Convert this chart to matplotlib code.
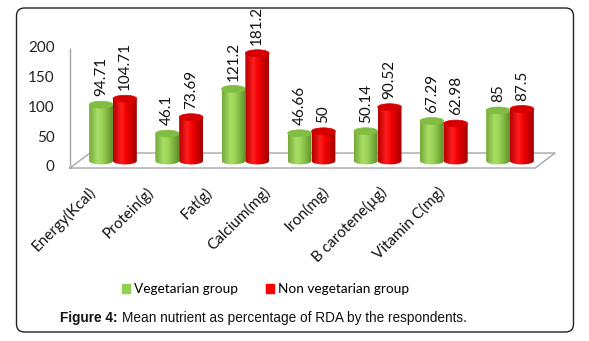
import numpy as np
import matplotlib
matplotlib.use("Agg")
import matplotlib.pyplot as plt
from matplotlib.patches import Ellipse, Patch, FancyBboxPatch, PathPatch
from matplotlib.path import Path
from matplotlib.colors import LinearSegmentedColormap
from matplotlib.transforms import IdentityTransform

nutrients = ["Energy(Kcal)", "Protein(g)", "Fat(g)", "Calcium(mg)",
             "Iron(mg)", "B carotene(µg)", "Vitamin C(mg)"]
veg = [94.71, 46.1, 121.2, 46.66, 50.14, 67.29, 85]
nonveg = [104.71, 73.69, 181.2, 50, 90.52, 62.98, 87.5]
veg_labels = ["94.71", "46.1", "121.2", "46.66", "50.14", "67.29", "85"]
nonveg_labels = ["104.71", "73.69", "181.2", "50", "90.52", "62.98", "87.5"]
yticks = [0, 50, 100, 150, 200]
series_names = ["Vegetarian group", "Non vegetarian group"]

W, H = 589, 341
FONT = "Lato"

# cylinder shading (left -> right)
green_cmap = LinearSegmentedColormap.from_list(
    "g", [(0, "#74A83A"), (0.35, "#A8DE66"), (0.55, "#9BD457"), (1, "#5F9128")])
red_cmap = LinearSegmentedColormap.from_list(
    "r", [(0, "#B80000"), (0.35, "#FF1E1E"), (0.55, "#F40000"), (1, "#A00000")])
green_cap, red_cap = "#82BD43", "#D60000"

bar_w = 0.36
cap_h = 11.5

fig = plt.figure(figsize=(W / 100, H / 100), dpi=100)
ax = fig.add_axes([0, 0, 1, 1])
ax.set_axis_off()


def cylinder(xc, v, cmap, cap_color, z):
    x0, x1 = xc - bar_w / 2, xc + bar_w / 2
    t = np.linspace(np.pi, 2 * np.pi, 40)
    verts = [(x0, v)] + list(zip(xc + bar_w / 2 * np.cos(t), cap_h / 2 * np.sin(t))) + [(x1, v), (x0, v)]
    clip = PathPatch(Path(verts, closed=True), transform=ax.transData, fc="none", ec="none")
    grad = np.linspace(0, 1, 64).reshape(1, -1)
    im = ax.imshow(grad, extent=[x0, x1, -cap_h, v], aspect="auto", cmap=cmap,
                   origin="lower", zorder=z, interpolation="bilinear")
    im.set_clip_path(clip)
    ax.add_patch(Ellipse((xc, v), bar_w, cap_h, fc=cap_color, ec=cap_color,
                         lw=0.5, zorder=z + 0.05))


# floor + axis (front plane shifted down, back plane up)
xl, xr = -0.65, 6.38
yf = -11.8
dx, dy = 0.30, 25.2
grey = "#A6A6A6"
ax.plot([xl, xr, xr + dx, xl + dx, xl], [yf, yf, yf + dy, yf + dy, yf], color=grey, lw=1, zorder=1)
ax.plot([xl, xl], [yf, yf + 200], color=grey, lw=1, zorder=1)

for v in yticks:
    ax.text(xl - 0.23, yf + v + 1, str(v), ha="right", va="center",
            fontsize=11, family=FONT, color="#222222")

x = np.arange(len(nutrients))
for i in x:
    cylinder(i - bar_w / 2, veg[i], green_cmap, green_cap, 3 + i * 0.2)
    cylinder(i + bar_w / 2, nonveg[i], red_cmap, red_cap, 3.1 + i * 0.2)
    ax.text(i - bar_w / 2, veg[i] + 14, veg_labels[i], rotation=90, ha="center",
            va="bottom", fontsize=11, family=FONT, color="#111111", zorder=6)
    ax.text(i + bar_w / 2, nonveg[i] + 14, nonveg_labels[i], rotation=90, ha="center",
            va="bottom", fontsize=11, family=FONT, color="#111111", zorder=6)
    ax.text(i * 0.881 - 0.30, -48, nutrients[i], rotation=45, rotation_mode="anchor",
            ha="right", va="center", fontsize=11, family=FONT, color="#111111")

ax.set_xlim(-113 / 66.17, (W - 113) / 66.17)
ax.set_ylim((161 - H) / 0.595, 161 / 0.595)

handles = [Patch(color="#92D050"), Patch(color="#FF0000")]
ax.legend(handles, series_names, loc="center", bbox_to_anchor=(0.451, 0.1525), ncol=2,
          frameon=False, handlelength=0.6, handleheight=0.6, handletextpad=0.3,
          columnspacing=2.0, prop={"family": FONT, "size": 9.8})

# outer rounded frame
fig.patches.append(FancyBboxPatch((16.5, 9), 557, 324, boxstyle="round,pad=0,rounding_size=8",
                                  transform=IdentityTransform(), fc="none", ec="#222222", lw=1))

t1 = fig.text(60 / W, 1 - 318 / H, "Figure 4:", ha="left", va="center", fontsize=9.8,
              family="Liberation Sans", weight="bold", color="#111111")
fig.canvas.draw()
bb = t1.get_window_extent(fig.canvas.get_renderer())
fig.text((bb.x1 + 4) / W, 1 - 318 / H, "Mean nutrient as percentage of RDA by the respondents.",
         ha="left", va="center", fontsize=9.8, family="Liberation Sans", color="#111111")

fig.savefig("out.png", dpi=100)
